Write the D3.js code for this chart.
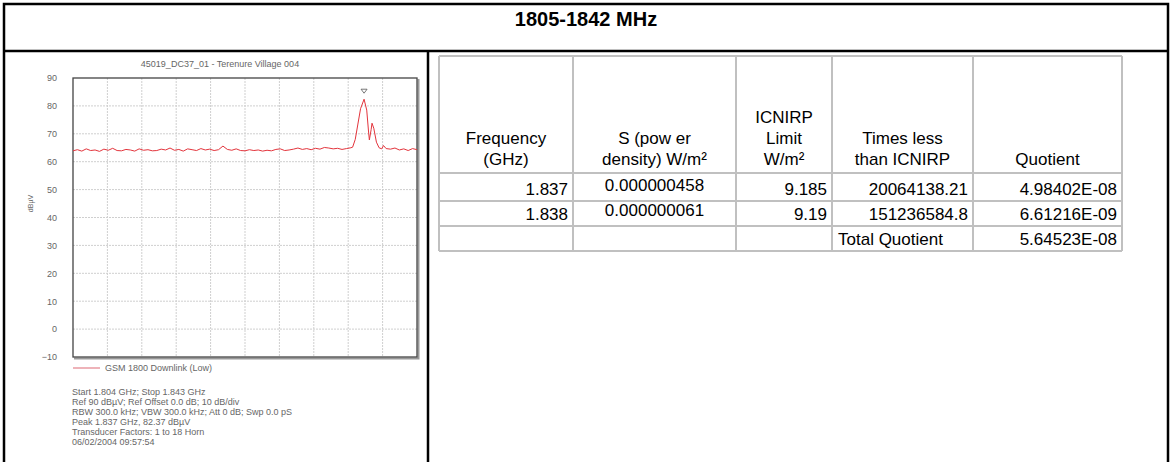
<!DOCTYPE html>
<html>
<head>
<meta charset="utf-8">
<script src="https://cdn.jsdelivr.net/npm/d3@7"></script>
<style>
  body { margin: 0; background: #fff; }
  svg { display: block; }
  .plot text { font-family: 'Liberation Sans', Arial, sans-serif; fill: #666; }
  .tbl text { font-family: 'Liberation Sans', Arial, sans-serif; fill: #000; font-size: 17px; }
</style>
</head>
<body>
<div id="container"></div>
<script>
// spectrum trace
const traceFreq = [
  1.8040, 1.8045, 1.8050, 1.8055, 1.8060, 1.8065, 1.8070, 1.8075, 1.8080, 1.8085,
  1.8090, 1.8095, 1.8100, 1.8105, 1.8110, 1.8115, 1.8120, 1.8125, 1.8130, 1.8135,
  1.8140, 1.8145, 1.8150, 1.8155, 1.8160, 1.8165, 1.8170, 1.8175, 1.8180, 1.8185,
  1.8190, 1.8195, 1.8200, 1.8205, 1.8210, 1.8215, 1.8220, 1.8225, 1.8230, 1.8235,
  1.8240, 1.8245, 1.8250, 1.8255, 1.8260, 1.8265, 1.8270, 1.8275, 1.8280, 1.8285,
  1.8290, 1.8295, 1.8300, 1.8305, 1.8310, 1.8315, 1.8320, 1.8325, 1.8330, 1.8335,
  1.8340, 1.8345, 1.8350, 1.8355, 1.8357, 1.8360, 1.8363, 1.8366, 1.8370, 1.8373,
  1.8375, 1.8376, 1.8378, 1.8379, 1.8381, 1.8384, 1.8387, 1.8390, 1.8392, 1.8395,
  1.8400, 1.8405, 1.8410, 1.8415, 1.8420, 1.8425, 1.8430
];
const traceLevel = [
  63.9, 64.3, 63.8, 64.6, 64.0, 64.2, 63.7, 64.5, 64.1, 64.8,
  64.0, 63.9, 64.4, 64.2, 63.8, 64.6, 64.1, 64.3, 63.9, 64.0,
  64.5, 64.2, 64.9, 64.1, 64.4, 63.8, 64.6, 64.3, 64.0, 64.7,
  64.2, 64.5, 64.0, 64.3, 65.6, 64.4, 64.1, 64.6, 64.0, 63.9,
  64.3, 64.0, 64.2, 63.8, 64.1, 63.9, 64.4, 64.6, 64.0, 64.2,
  64.5, 64.9, 64.4, 64.7, 64.3, 64.8, 64.5, 65.1, 64.9, 64.6,
  64.8, 64.4, 64.7, 65.0, 65.2, 68.0, 73.5, 79.0, 82.4, 78.5,
  71.0, 67.8, 71.5, 73.8, 72.0, 67.0, 65.0, 64.6, 65.8, 64.7,
  64.5, 64.9, 64.2, 64.6, 64.0, 64.7, 64.3
];
const freqDomain = [1.804, 1.843];
const levelTicks = [-10, 0, 10, 20, 30, 40, 50, 60, 70, 80, 90];

const pageTitle = '1805-1842 MHz';
const plotTitle = '45019_DC37_01 - Terenure Village 004';
const unitLabel = 'dB\u00b5V';
const legendLabel = 'GSM 1800 Downlink (Low)';
const infoLines = [
  'Start 1.804 GHz; Stop 1.843 GHz',
  'Ref 90 dB\u00b5V; Ref Offset 0.0 dB; 10 dB/div',
  'RBW 300.0 kHz; VBW 300.0 kHz; Att 0 dB; Swp 0.0 pS',
  'Peak 1.837 GHz, 82.37 dB\u00b5V',
  'Transducer Factors: 1 to 18 Horn',
  '06/02/2004 09:57:54'
];

// table
const tableHeaders = [
  ['Frequency', '(GHz)'],
  ['S (pow er', 'density) W/m\u00b2'],
  ['ICNIRP', 'Limit', 'W/m\u00b2'],
  ['Times less', 'than ICNIRP'],
  ['Quotient']
];
const frequencyCol = ['1.837', '1.838', ''];
const powerDensityCol = ['0.000000458', '0.000000061', ''];
const limitCol = ['9.185', '9.19', ''];
const timesLessCol = ['20064138.21', '151236584.8', 'Total Quotient'];
const quotientCol = ['4.98402E-08', '6.61216E-09', '5.64523E-08'];

const W = 1170, H = 462;
const svg = d3.select('#container').append('svg').attr('width', W).attr('height', H);

// outer frame
svg.append('path')
  .attr('d', `M4,${H} V4 H1168 V${H}`)
  .attr('fill', 'none').attr('stroke', '#000').attr('stroke-width', 2.5);
svg.append('line').attr('x1', 4).attr('x2', 1168).attr('y1', 51).attr('y2', 51)
  .attr('stroke', '#000').attr('stroke-width', 2.5);
svg.append('line').attr('x1', 428).attr('x2', 428).attr('y1', 51).attr('y2', H)
  .attr('stroke', '#000').attr('stroke-width', 2.5);

svg.append('text')
  .attr('x', 586).attr('y', 26)
  .attr('text-anchor', 'middle')
  .style('font-family', "'Liberation Sans', Arial, sans-serif")
  .style('font-weight', 'bold').style('font-size', '20px')
  .text(pageTitle);

// ---- spectrum plot
const plot = svg.append('g').attr('class', 'plot');
const x = d3.scaleLinear().domain(freqDomain).range([73, 417]);
const y = d3.scaleLinear().domain([-10, 90]).range([357, 78]);

const divs = d3.range(1, 10).map(i => freqDomain[0] + i * (freqDomain[1] - freqDomain[0]) / 10);
plot.append('g').selectAll('line').data(divs).enter().append('line')
  .attr('x1', d => x(d)).attr('x2', d => x(d))
  .attr('y1', y(90)).attr('y2', y(-10))
  .attr('stroke', '#cfcfcf').attr('stroke-dasharray', '2,1');
plot.append('g').selectAll('line').data(levelTicks.slice(1, -1)).enter().append('line')
  .attr('x1', x(freqDomain[0])).attr('x2', x(freqDomain[1]))
  .attr('y1', d => y(d)).attr('y2', d => y(d))
  .attr('stroke', '#cfcfcf').attr('stroke-dasharray', '2,1');

// frame with a bit of shadow on the right / bottom
plot.append('path')
  .attr('d', `M${x(freqDomain[1]) + 1.5},${y(90) + 1} V${y(-10) + 1.5} H${x(freqDomain[0]) + 1}`)
  .attr('fill', 'none').attr('stroke', '#999').attr('stroke-width', 2);
plot.append('rect')
  .attr('x', x(freqDomain[0])).attr('y', y(90))
  .attr('width', x(freqDomain[1]) - x(freqDomain[0]))
  .attr('height', y(-10) - y(90))
  .attr('fill', 'none').attr('stroke', '#444').attr('stroke-width', 1.3);

const yAxis = plot.append('g')
  .attr('transform', `translate(${x(freqDomain[0])},0)`)
  .call(d3.axisLeft(y).tickValues(levelTicks).tickSize(0).tickPadding(16));
yAxis.select('.domain').remove();
yAxis.selectAll('text').style('font-size', '9px').attr('fill', '#777');

plot.append('text')
  .attr('transform', `translate(33,${y(45)}) rotate(-90)`)
  .attr('text-anchor', 'middle')
  .style('font-size', '7px')
  .text(unitLabel);

plot.append('text')
  .attr('x', 220).attr('y', 67)
  .attr('text-anchor', 'middle')
  .style('font-size', '9px')
  .text(plotTitle);

const trace = traceFreq.map((f, i) => [f, traceLevel[i]]);
plot.append('path')
  .datum(trace)
  .attr('d', d3.line().x(d => x(d[0])).y(d => y(d[1])))
  .attr('fill', 'none').attr('stroke', '#e3343c').attr('stroke-width', 1);

// peak marker
const peak = d3.greatest(trace, d => d[1]);
const px = x(peak[0]), py = y(peak[1]) - 6;
plot.append('path')
  .attr('d', `M${px - 3},${py - 4} H${px + 3} L${px},${py} Z`)
  .attr('fill', 'none').attr('stroke', '#555').attr('stroke-width', 0.8);

// legend
plot.append('line')
  .attr('x1', 73).attr('x2', 100).attr('y1', 368).attr('y2', 368)
  .attr('stroke', '#e89aa2').attr('stroke-width', 1.5);
plot.append('text')
  .attr('x', 105).attr('y', 371)
  .style('font-size', '9px')
  .text(legendLabel);

plot.append('g').selectAll('text').data(infoLines).enter().append('text')
  .attr('x', 72).attr('y', (d, i) => 395 + i * 10)
  .style('font-size', '9px')
  .text(d => d);

// ---- table
const tbl = svg.append('g').attr('class', 'tbl');
const colEdges = [439, 573, 736, 832, 973, 1122];
const rowEdges = [56, 173, 201, 226, 251];
const columns = [frequencyCol, powerDensityCol, limitCol, timesLessCol, quotientCol];
const anchors = ['end', 'middle', 'end', 'end', 'end'];

tbl.append('g').selectAll('line').data(colEdges).enter().append('line')
  .attr('x1', d => d).attr('x2', d => d)
  .attr('y1', rowEdges[0]).attr('y2', rowEdges[rowEdges.length - 1])
  .attr('stroke', '#c0c0c0').attr('stroke-width', 2);
tbl.append('g').selectAll('line').data(rowEdges).enter().append('line')
  .attr('x1', colEdges[0]).attr('x2', colEdges[colEdges.length - 1])
  .attr('y1', d => d).attr('y2', d => d)
  .attr('stroke', '#c0c0c0').attr('stroke-width', 2);

tableHeaders.forEach((lines, c) => {
  const cx = (colEdges[c] + colEdges[c + 1]) / 2;
  tbl.append('g').selectAll('text').data(lines).enter().append('text')
    .attr('x', cx)
    .attr('y', (d, i) => rowEdges[1] - 8 - (lines.length - 1 - i) * 21)
    .attr('text-anchor', 'middle')
    .text(d => d);
});

columns.forEach((vals, c) => {
  tbl.append('g').selectAll('text').data(vals).enter().append('text')
    .attr('x', (d, i) => {
      if (c === 3 && i === 2) return colEdges[c] + 6;
      if (anchors[c] === 'middle') return (colEdges[c] + colEdges[c + 1]) / 2;
      return colEdges[c + 1] - 5;
    })
    .attr('y', (d, i) => rowEdges[i + 2] - (c === 1 ? 10 : 6))
    .attr('text-anchor', (d, i) => (c === 3 && i === 2) ? 'start' : anchors[c])
    .text(d => d);
});
</script>
</body>
</html>
